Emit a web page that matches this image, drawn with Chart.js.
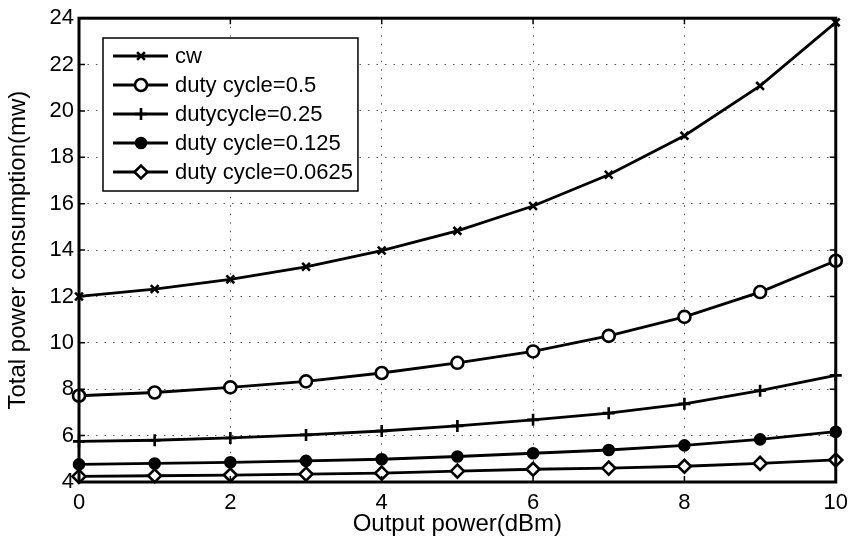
<!DOCTYPE html>
<html>
<head>
<meta charset="utf-8">
<script src="https://cdn.jsdelivr.net/npm/chart.js@4.4.1/dist/chart.umd.min.js"></script>
<style>
  html, body { margin: 0; padding: 0; background: #fff; }
  #wrap { width: 856px; height: 541px; }
</style>
</head>
<body>
<div id="wrap"><canvas id="powerChart" width="856" height="541"></canvas></div>
<script>
const outputPower = [0, 1, 2, 3, 4, 5, 6, 7, 8, 9, 10];
const cw = [12.0, 12.32, 12.74, 13.28, 13.98, 14.83, 15.9, 17.25, 18.93, 21.08, 23.82];
const duty05 = [7.72, 7.86, 8.08, 8.34, 8.7, 9.14, 9.63, 10.3, 11.12, 12.19, 13.54];
const duty025 = [5.75, 5.8, 5.9, 6.03, 6.2, 6.42, 6.68, 6.97, 7.37, 7.94, 8.6];
const duty0125 = [4.76, 4.8, 4.85, 4.91, 4.98, 5.1, 5.24, 5.38, 5.58, 5.84, 6.17];
const duty00625 = [4.24, 4.27, 4.3, 4.34, 4.38, 4.47, 4.55, 4.6, 4.68, 4.8, 4.95];
const seriesLabels = ["cw", "duty cycle=0.5", "dutycycle=0.25", "duty cycle=0.125", "duty cycle=0.0625"];

const FONT = "'Liberation Sans', Arial, Helvetica, sans-serif";

function makeSet(label, values, style, radius, fill) {
    return {
        label: label,
        data: outputPower.map((x, i) => ({ x: x, y: values[i] })),
        borderColor: "#000",
        borderWidth: 2.8,
        pointStyle: style,
        pointRadius: radius,
        pointHoverRadius: radius,
        pointBorderWidth: 2.6,
        pointBorderColor: "#000",
        pointBackgroundColor: fill,
        tension: 0,
        fill: false,
        clip: false
    };
}

const datasets = [
    makeSet(seriesLabels[0], cw, "crossRot", 5.5, "#000"),
    makeSet(seriesLabels[1], duty05, "circle", 6, "#fff"),
    makeSet(seriesLabels[2], duty025, "cross", 6, "#000"),
    makeSet(seriesLabels[3], duty0125, "circle", 5, "#000"),
    makeSet(seriesLabels[4], duty00625, "rectRot", 6.5, "#fff")
];

// cadre, petits ticks intérieurs et légende façon matlab
const framePlugin = {
    id: "frame",
    afterDraw(chart) {
        const ctx = chart.ctx;
        const a = chart.chartArea;
        const xs = chart.scales.x, ys = chart.scales.y;
        ctx.save();
        ctx.strokeStyle = "#000";
        ctx.lineWidth = 1.5;
        ctx.beginPath();
        xs.ticks.forEach(t => {
            const px = xs.getPixelForValue(t.value);
            ctx.moveTo(px, a.bottom); ctx.lineTo(px, a.bottom - 6);
            ctx.moveTo(px, a.top); ctx.lineTo(px, a.top + 6);
        });
        ys.ticks.forEach(t => {
            const py = ys.getPixelForValue(t.value);
            ctx.moveTo(a.left, py); ctx.lineTo(a.left + 6, py);
            ctx.moveTo(a.right, py); ctx.lineTo(a.right - 6, py);
        });
        ctx.stroke();
        ctx.lineWidth = 3;
        ctx.strokeRect(a.left, a.top, a.right - a.left, a.bottom - a.top);

        // légende
        ctx.font = "22px " + FONT;
        let maxW = 0;
        seriesLabels.forEach(s => { maxW = Math.max(maxW, ctx.measureText(s).width); });
        const bx = 103, by = 38, bh = 153;
        const bw = 175 - bx + maxW + 5;
        ctx.fillStyle = "#fff";
        ctx.fillRect(bx, by, bw, bh);
        ctx.lineWidth = 1.5;
        ctx.strokeRect(bx, by, bw, bh);
        chart.data.datasets.forEach((ds, i) => {
            const y = 56 + i * 29;
            ctx.strokeStyle = "#000";
            ctx.lineWidth = 2.8;
            ctx.beginPath();
            ctx.moveTo(113, y); ctx.lineTo(168, y);
            ctx.stroke();
            ctx.fillStyle = ds.pointBackgroundColor;
            ctx.lineWidth = ds.pointBorderWidth;
            Chart.helpers.drawPoint(ctx, {
                pointStyle: ds.pointStyle,
                radius: ds.pointRadius,
                rotation: 0,
                borderWidth: ds.pointBorderWidth
            }, 141, y);
            ctx.fillStyle = "#000";
            ctx.textBaseline = "middle";
            ctx.textAlign = "left";
            ctx.fillText(ds.label, 175, y + 1);
        });
        ctx.restore();
    }
};

const ctx = document.getElementById("powerChart").getContext("2d");
new Chart(ctx, {
    type: "line",
    data: { datasets: datasets },
    options: {
        responsive: false,
        animation: false,
        events: [],
        layout: { padding: { top: 15, right: 17, left: 0, bottom: 0 } },
        plugins: { legend: { display: false }, tooltip: { enabled: false } },
        scales: {
            x: {
                type: "linear",
                min: 0,
                max: 10,
                afterFit: s => { s.height = 59; },
                ticks: { stepSize: 2, color: "#000", padding: 8, font: { family: FONT, size: 22 } },
                grid: { color: "#555", lineWidth: 1, drawTicks: false },
                border: { display: false, dash: [1.5, 7] },
                title: { display: true, text: "Output power(dBm)", color: "#000",
                         font: { family: FONT, size: 24 }, padding: { top: 0, bottom: 2 } }
            },
            y: {
                min: 4,
                max: 24,
                afterFit: s => { s.width = 79; },
                ticks: { stepSize: 2, color: "#000", padding: 5, font: { family: FONT, size: 22 } },
                grid: { color: "#555", lineWidth: 1, drawTicks: false },
                border: { display: false, dash: [1.5, 7] },
                title: { display: true, text: "Total power consumption(mw)", color: "#000",
                         font: { family: FONT, size: 24 }, padding: { top: 4, bottom: 0 } }
            }
        }
    },
    plugins: [framePlugin]
});
</script>
</body>
</html>
